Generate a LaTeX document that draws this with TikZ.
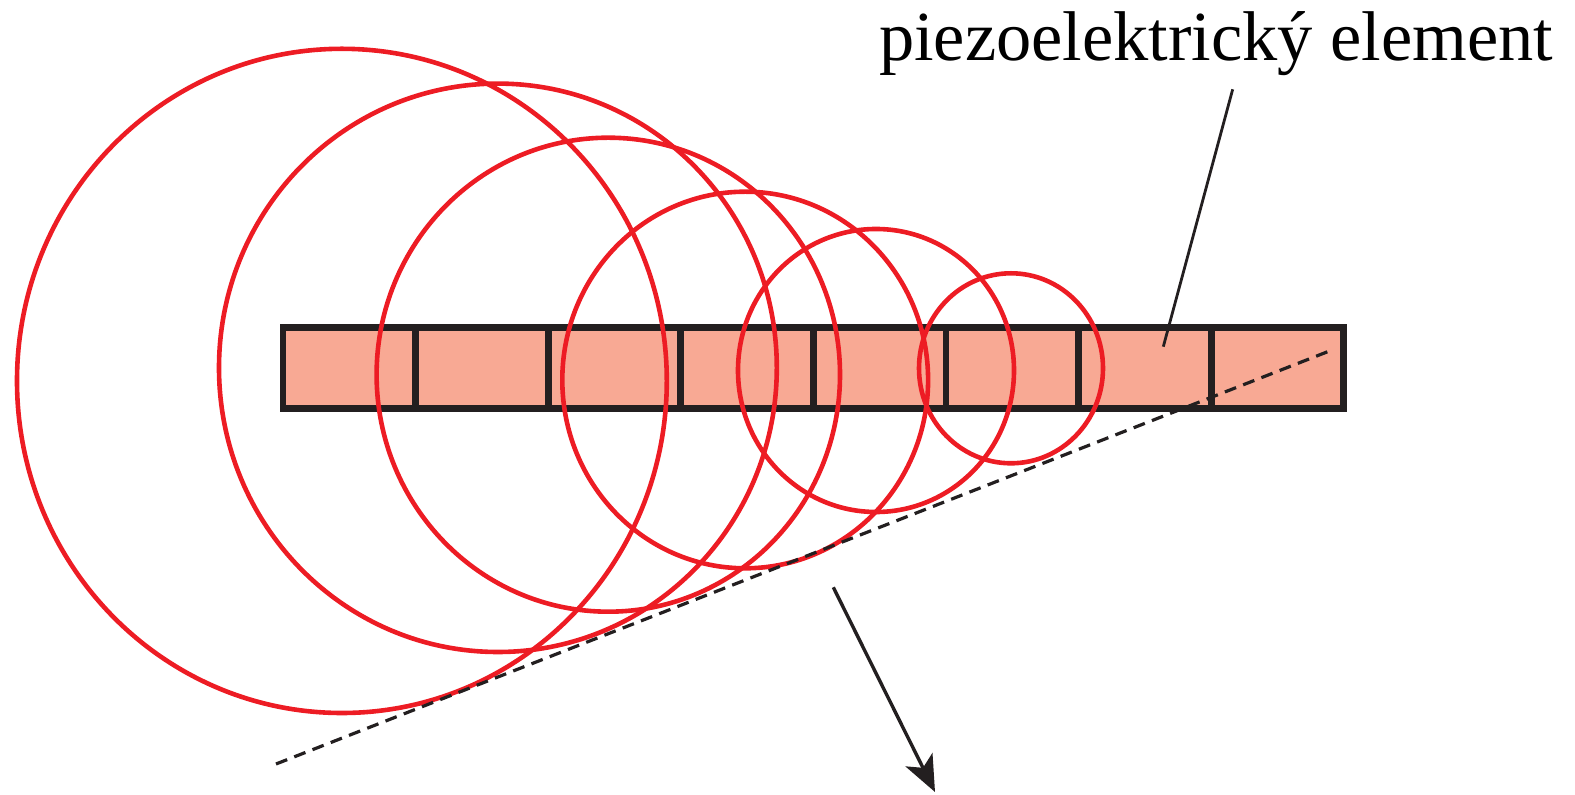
\documentclass[tikz,border=0pt]{standalone}
\usepackage{fontspec}
\setmainfont{Liberation Serif}
\usetikzlibrary{arrows.meta}
\definecolor{wavered}{RGB}{237,28,36}
\definecolor{piezofill}{RGB}{248,169,148}
\definecolor{piezoborder}{RGB}{35,31,32}
\tikzset{
  segbox/.style={draw=piezoborder, fill=piezofill, line width=3.4pt, rectangle,
    minimum width=66.3pt, minimum height=40.5pt, inner sep=0pt, outer sep=0pt},
  wave/.style={draw=wavered, line width=2.3pt},
  wavefront/.style={draw=piezoborder, line width=1.6pt, dash pattern=on 6pt off 3.8pt},
  leader/.style={draw=piezoborder, line width=1.4pt},
  dirarrow/.style={draw=piezoborder, line width=1.7pt, -{Stealth[length=18pt, width=15pt, inset=4.5pt]}},
  lbl/.style={inner sep=0pt, outer sep=0pt, font=\fontsize{35.2}{40}\selectfont}
}
\begin{document}
\begin{tikzpicture}[x=0.5pt,y=-0.5pt]
\useasboundingbox (0,0) rectangle (1575,795);
% piezo elements
\foreach \i/\cx in {1/349.3,2/481.9,3/614.5,4/747.1,5/879.7,6/1012.2,7/1144.8,8/1277.4}
  \node[segbox] (s\i) at (\cx,367.8) {};
% spherical waves
\draw[wave] (341.9,380.9) ellipse [x radius=162.45pt, y radius=166.05pt];
\draw[wave] (497.9,367.8) ellipse [x radius=139.45pt, y radius=142.1pt];
\draw[wave] (608.3,374.7) ellipse [x radius=115.85pt, y radius=118.5pt];
\draw[wave] (745.2,380.0) ellipse [x radius=91.45pt, y radius=94.15pt];
\draw[wave] (876.0,370.5) ellipse [x radius=69pt, y radius=70.75pt];
\draw[wave] (1011.0,368.3) ellipse [x radius=46pt, y radius=47.5pt];
% wave front
\coordinate (wf1) at (276,764);
\coordinate (wf2) at (1332,350);
\draw[wavefront] (wf1) -- (wf2);
% label
\node[lbl, anchor=base west] (label) at (879,61) {piezoelektrický element};
\coordinate (ltop) at (1232.7,89.3);
\coordinate (lbot) at (1163.3,346.7);
\draw[leader] (ltop) -- (lbot);
% propagation direction
\coordinate (a1) at (833.3,587.3);
\coordinate (a2) at (935,792);
\draw[dirarrow] (a1) -- (a2);
\end{tikzpicture}
\end{document}
